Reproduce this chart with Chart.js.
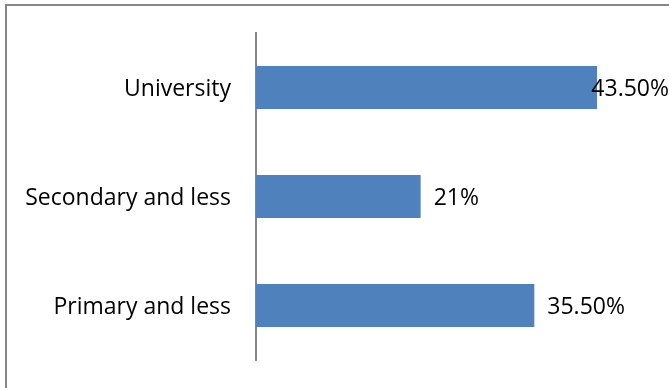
<!DOCTYPE html>
<html>
<head>
<meta charset="utf-8">
<script src="https://cdn.jsdelivr.net/npm/chart.js@4"></script>
<style>
  html, body { margin: 0; padding: 0; background: #fff; }
  #wrap { width: 669px; height: 388px; }
</style>
</head>
<body>
<div id="wrap"><canvas id="chart" width="669" height="388"></canvas></div>
<script>
const categories = ['University', 'Secondary and less', 'Primary and less'];
const shares = [43.5, 21, 35.5];
const shareLabels = ['43.50%', '21%', '35.50%'];

const FONT = '"Open Sans", sans-serif';
const FONT_SIZE = 23;

// frame lines along the top and left edge
const frame = {
  id: 'frame',
  beforeDraw(chart) {
    const c = chart.ctx;
    c.save();
    c.strokeStyle = '#868686';
    c.lineWidth = 2;
    c.beginPath();
    c.moveTo(5, 5);
    c.lineTo(669, 5);
    c.moveTo(6, 4);
    c.lineTo(6, 388);
    c.stroke();
    c.restore();
  }
};

// value labels just past each bar, pulled back when they would run off the canvas
const valueLabels = {
  id: 'valueLabels',
  afterDatasetsDraw(chart) {
    const c = chart.ctx;
    const meta = chart.getDatasetMeta(0);
    c.save();
    c.font = FONT_SIZE + 'px ' + FONT;
    c.fillStyle = '#000';
    c.textBaseline = 'middle';
    c.textAlign = 'left';
    meta.data.forEach((bar, i) => {
      const txt = shareLabels[i];
      const w = c.measureText(txt).width;
      let x = bar.x + 13;
      if (x + w > 669) x = 669 - w;
      c.fillText(txt, x, bar.y + 2);
    });
    c.restore();
  }
};

new Chart(document.getElementById('chart'), {
  type: 'bar',
  data: {
    labels: categories,
    datasets: [{
      data: shares,
      backgroundColor: '#4f81bd',
      categoryPercentage: 1,
      barPercentage: 0.394
    }]
  },
  options: {
    indexAxis: 'y',
    responsive: false,
    animation: false,
    layout: { padding: { top: 33, bottom: 28, right: 21, left: 0 } },
    plugins: { legend: { display: false }, tooltip: { enabled: false } },
    scales: {
      x: { display: false, min: 0, max: 50 },
      y: {
        grid: { display: false, drawTicks: false },
        border: { display: true, color: '#868686', width: 2 },
        ticks: { color: '#000', padding: 25, labelOffset: 2, font: { family: FONT, size: FONT_SIZE } },
        afterFit(scale) {
          scale.width = 256;
          scale.paddingTop = 0;
          scale.paddingBottom = 0;
        }
      }
    }
  },
  plugins: [frame, valueLabels]
});
</script>
</body>
</html>
